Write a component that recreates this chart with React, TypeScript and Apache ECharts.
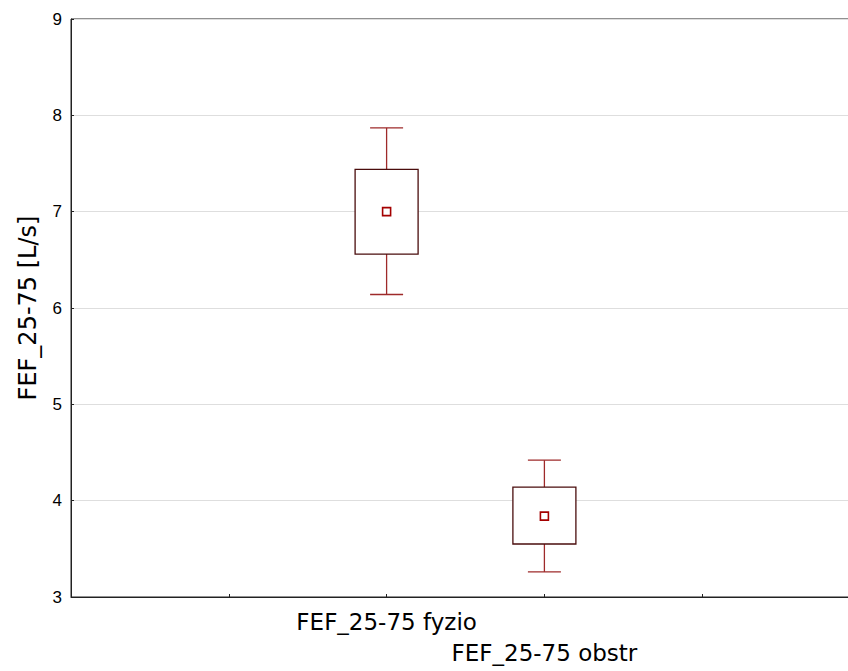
import React, { useEffect, useRef } from "react";
import * as echarts from "echarts";

const categories = ["FEF_25-75 fyzio", "FEF_25-75 obstr"];
const positions = [2, 3];
const whiskerLow = [6.14, 3.26];
const boxLow = [6.56, 3.55];
const means = [7.0, 3.84];
const boxHigh = [7.44, 4.14];
const whiskerHigh = [7.87, 4.42];
const yTicks = [3, 4, 5, 6, 7, 8, 9];

export default function App() {
  const ref = useRef<HTMLDivElement>(null);
  useEffect(() => {
    if (!ref.current) return;
    const chart = echarts.init(ref.current, null, { renderer: "svg" });
    const data = positions.map((p, i) => [p, whiskerLow[i], boxLow[i], means[i], boxHigh[i], whiskerHigh[i]]);
    const font = "DejaVu Sans";
    chart.setOption({
      animation: false,
      grid: {
        left: 71,
        top: 19,
        width: 789,
        height: 578,
        show: true,
        borderColor: "#222",
        borderWidth: 1,
        backgroundColor: "transparent",
        containLabel: false,
        outerBoundsMode: "none",
      },
      xAxis: {
        type: "value",
        min: 0,
        max: 5,
        interval: 1,
        splitLine: { show: false },
        axisLine: { lineStyle: { color: "#222" } },
        axisTick: { inside: true, length: 3, lineStyle: { color: "#222" } },
        axisLabel: {
          fontFamily: font,
          fontSize: 23,
          color: "#000",
          margin: 13,
          showMinLabel: true,
          showMaxLabel: true,
          hideOverlap: false,
          formatter: (v: number) => {
            const idx = positions.indexOf(v);
            if (idx < 0) return "";
            return idx % 2 === 0 ? categories[idx] : "{low|" + categories[idx] + "}";
          },
          rich: {
            low: { fontFamily: font, fontSize: 23, color: "#000", padding: [31, 0, 0, 0] },
          },
        },
      },
      yAxis: {
        type: "value",
        min: 3,
        max: 9,
        interval: 1,
        axisLine: { show: true, lineStyle: { color: "#222" } },
        axisTick: { show: true, inside: true, length: 3, lineStyle: { color: "#222" } },
        splitLine: { show: true, lineStyle: { color: "#dedede", width: 1 } },
        axisLabel: {
          fontFamily: "Liberation Sans",
          fontSize: 17,
          color: "#000",
          margin: 9,
          formatter: (v: number) => (yTicks.includes(v) ? String(v) : ""),
        },
        name: "FEF_25-75 [L/s]",
        nameLocation: "middle",
        nameGap: 31,
        nameRotate: 90,
        nameTextStyle: { fontFamily: font, fontSize: 24, color: "#000" },
      },
      series: [
        {
          type: "custom",
          data,
          clip: false,
          renderItem: (params: any, api: any) => {
            const x = api.value(0);
            const wl = api.coord([x, api.value(1)]);
            const bl = api.coord([x, api.value(2)]);
            const m = api.coord([x, api.value(3)]);
            const bh = api.coord([x, api.value(4)]);
            const wh = api.coord([x, api.value(5)]);
            const cx = wl[0];
            const bw = 63;
            const cw = 33;
            const ms = 8;
            const wColor = "#9e2a2a";
            return {
              type: "group",
              children: [
                { type: "line", shape: { x1: cx, y1: wh[1], x2: cx, y2: bh[1] }, style: { stroke: wColor, lineWidth: 1.3 } },
                { type: "line", shape: { x1: cx, y1: bl[1], x2: cx, y2: wl[1] }, style: { stroke: wColor, lineWidth: 1.3 } },
                { type: "line", shape: { x1: cx - cw / 2, y1: wh[1], x2: cx + cw / 2, y2: wh[1] }, style: { stroke: wColor, lineWidth: 1.3 } },
                { type: "line", shape: { x1: cx - cw / 2, y1: wl[1], x2: cx + cw / 2, y2: wl[1] }, style: { stroke: wColor, lineWidth: 1.3 } },
                {
                  type: "rect",
                  shape: { x: cx - bw / 2, y: bh[1], width: bw, height: bl[1] - bh[1] },
                  style: { fill: "#fff", stroke: "#4a0d0d", lineWidth: 1.3 },
                },
                {
                  type: "rect",
                  shape: { x: cx - ms / 2, y: m[1] - ms / 2, width: ms, height: ms },
                  style: { fill: "#fff", stroke: "#a40000", lineWidth: 1.6 },
                },
              ],
            };
          },
        },
      ],
    });
    return () => chart.dispose();
  }, []);
  return (
    <div
      ref={ref}
      style={{ position: "fixed", left: 0, top: 0, width: 848, height: 671, background: "#fff" }}
    />
  );
}
